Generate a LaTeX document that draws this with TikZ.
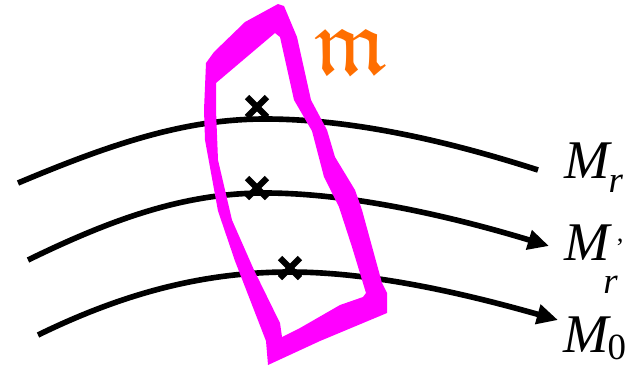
\documentclass[tikz,border=0pt]{standalone}
\usepackage{amssymb}
\usepackage{fontspec}
\setmainfont{Liberation Serif}
\usetikzlibrary{arrows.meta}
\definecolor{loopmag}{RGB}{255,0,255}
\definecolor{fraorange}{RGB}{255,110,0}
\begin{document}
\begin{tikzpicture}[x=0.02cm, y=-0.02cm,
    curve/.style={black, line width=3.2pt},
    flow/.style={curve, -{Triangle[length=12pt, width=11pt]}},
    cross/.style={black, line width=3.6pt},
    mlabel/.style={anchor=base west, inner sep=0pt, font=\fontsize{31}{31}\selectfont}]
	\useasboundingbox (0,0) rectangle (625,366);

	% labels of the three curves
	\node[mlabel] (mr) at (564,178) {\textit{M}\kern-2pt\raisebox{-8.5pt}{\fontsize{21}{21}\selectfont\textit{r}}};
	\node[mlabel] (mrp) at (564,260) {\textit{M}\rlap{\kern2pt\raisebox{2pt}{\fontsize{15}{15}\selectfont ’}}\kern-5pt\raisebox{-19pt}{\fontsize{21}{21}\selectfont\textit{r}}};
	\node[mlabel] (mz) at (563,352) {\textit{M}\kern-2pt\raisebox{-4pt}{\fontsize{21}{21}\selectfont 0}};

	% end points of the curves
	\coordinate (a1) at (18,183);
	\coordinate (b1) at (538,170);
	\coordinate (a2) at (28,260);
	\coordinate (b2) at (549,246);
	\coordinate (a3) at (38,335);
	\coordinate (b3) at (558,320);

	\draw[curve] (a1) .. controls (120,140) and (190,119) .. (265,119) .. controls (360,119) and (460,145) .. (b1);
	\draw[flow] (a2) .. controls (120,215) and (190,193) .. (265,193) .. controls (360,193) and (470,222) .. (b2);
	\draw[flow] (a3) .. controls (130,290) and (210,272) .. (290,272) .. controls (380,272) and (480,298) .. (b3);

	% the closed band
	\fill[loopmag, even odd rule]
		(278,4) -- (284,6) -- (297,37) -- (311,100) -- (327,130) -- (335,157) -- (355,190) -- (362,210)
		-- (382,283) -- (387,293) -- (387,313) -- (320,341) -- (268,365) -- (266,341) -- (235,261)
		-- (218,211) -- (205,140) -- (204,110) -- (206,63) -- (214,52) -- (245,22) -- cycle
		(275,33) -- (280,37) -- (294,100) -- (312,131) -- (324,177) -- (339,207) -- (352,247) -- (366,293)
		-- (363,297) -- (340,305) -- (300,328) -- (282,337) -- (280,323) -- (254,270) -- (232,220)
		-- (218,160) -- (216,110) -- (216,83) -- cycle;
	\node[text=fraorange, font=\fontsize{54}{54}\selectfont] (frak) at (351,52) {$\mathfrak{m}$};

	% marked points
	\foreach \x/\y in {257/107, 257/188, 290/268} {
		\draw[cross] (\x-10,\y-10) -- (\x+10,\y+10);
		\draw[cross] (\x-10,\y+10) -- (\x+10,\y-10);
	}
\end{tikzpicture}
\end{document}
